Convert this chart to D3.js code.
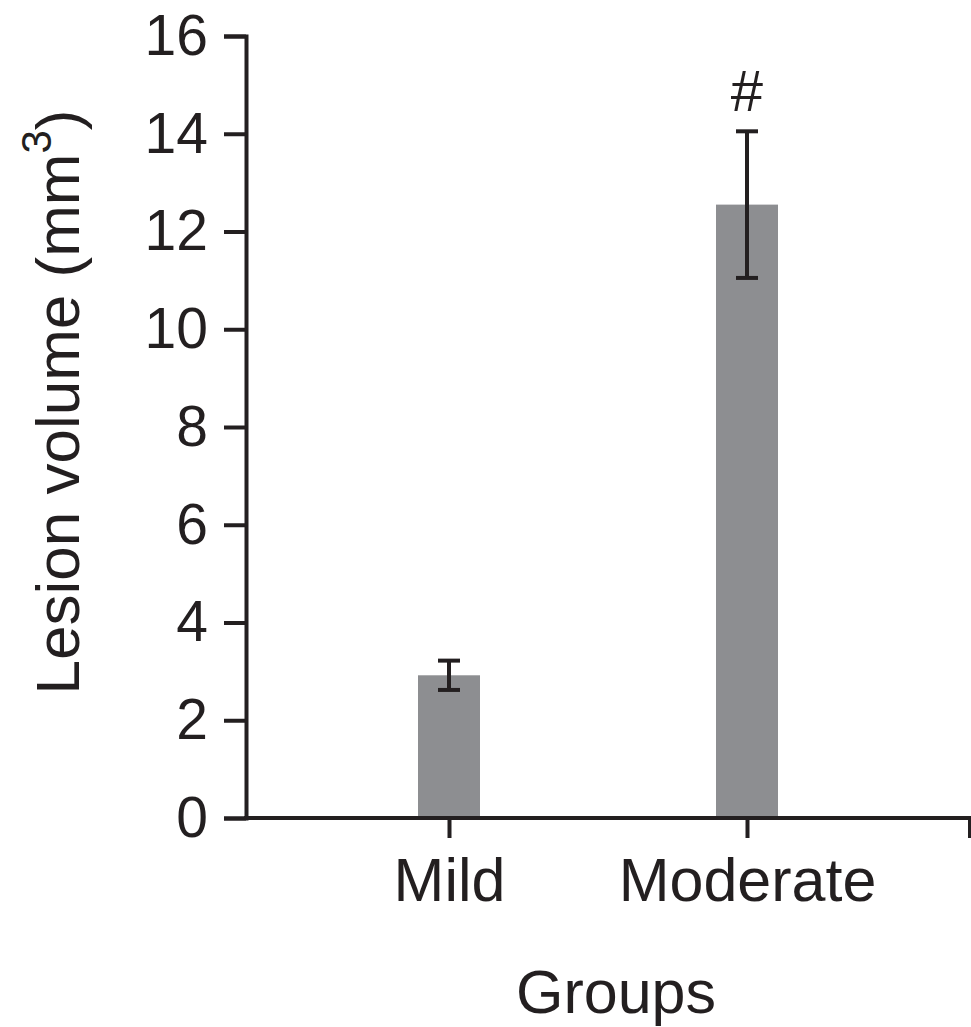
<!DOCTYPE html>
<meta charset="utf-8">
<style>
body { margin: 0; background: #fff; }
svg { font-family: "Liberation Sans", Arial, sans-serif; }
.bar { fill: #8d8e91; }
.axis path, .axis line { stroke: #231f20; stroke-width: 4px; }
.axis text { fill: #231f20; }
.axis--y text { font-size: 57px; }
.axis--x text { font-size: 61px; }
.err { stroke: #231f20; stroke-width: 4px; fill: none; }
</style>
<svg width="971" height="1027"></svg>
<script src="https://d3js.org/d3.v7.min.js"></script>
<script>

var groups = ["Mild", "Moderate"];
var means = [2.92, 12.55];
var sems = [0.3, 1.5];
var marks = ["", "#"];
var yTicks = [0, 2, 4, 6, 8, 10, 12, 14, 16];

var svg = d3.select("svg");

var x = d3.scalePoint().domain(groups).range([449, 747]),
    y = d3.scaleLinear().domain([0, 16]).range([818, 36]);

var barW = 62;

// bars
svg.selectAll(".bar")
  .data(groups)
  .enter().append("rect")
    .attr("class", "bar")
    .attr("x", function(d) { return x(d) - barW / 2; })
    .attr("y", function(d, i) { return y(means[i]); })
    .attr("width", barW)
    .attr("height", function(d, i) { return y(0) - y(means[i]); });

// error bars
var eb = svg.selectAll(".err")
  .data(groups)
  .enter().append("g")
    .attr("class", "err");

eb.append("line")
    .attr("x1", function(d) { return x(d); })
    .attr("x2", function(d) { return x(d); })
    .attr("y1", function(d, i) { return y(means[i] + sems[i]); })
    .attr("y2", function(d, i) { return y(means[i] - sems[i]); });
eb.append("line")
    .attr("x1", function(d) { return x(d) - 11; })
    .attr("x2", function(d) { return x(d) + 11; })
    .attr("y1", function(d, i) { return y(means[i] + sems[i]); })
    .attr("y2", function(d, i) { return y(means[i] + sems[i]); });
eb.append("line")
    .attr("x1", function(d) { return x(d) - 11; })
    .attr("x2", function(d) { return x(d) + 11; })
    .attr("y1", function(d, i) { return y(means[i] - sems[i]); })
    .attr("y2", function(d, i) { return y(means[i] - sems[i]); });

// significance marks
svg.selectAll(".mark")
  .data(groups)
  .enter().append("text")
    .attr("class", "mark")
    .attr("x", function(d) { return x(d); })
    .attr("y", function(d, i) { return y(means[i] + sems[i]) - 20; })
    .attr("text-anchor", "middle")
    .style("font-size", "58px")
    .style("fill", "#231f20")
    .text(function(d, i) { return marks[i]; });

// y axis
var yAxis = svg.append("g")
    .attr("class", "axis axis--y")
    .attr("transform", "translate(246,0)")
    .call(d3.axisLeft(y).tickValues(yTicks).tickSize(22).tickSizeOuter(22).tickPadding(16));
yAxis.selectAll(".tick text").attr("dy", "0.32em");

// x axis
var xAxis = svg.append("g")
    .attr("class", "axis axis--x")
    .attr("transform", "translate(0,818)")
    .call(d3.axisBottom(x).tickSize(20).tickSizeOuter(0).tickPadding(20));
xAxis.select(".domain").remove();
xAxis.append("path")
    .attr("d", "M244,0H970V20")
    .attr("fill", "none")
    .attr("stroke", "#231f20")
    .attr("stroke-width", 4);

// axis titles
svg.append("text")
    .attr("transform", "translate(79,402) rotate(-90)")
    .attr("text-anchor", "middle")
    .style("font-size", "62px")
    .style("fill", "#231f20")
    .html('Lesion volume (mm<tspan dy="-28" font-size="42">3</tspan><tspan dy="28">)</tspan>');

svg.append("text")
    .attr("x", 616)
    .attr("y", 1013)
    .attr("text-anchor", "middle")
    .style("font-size", "61px")
    .style("fill", "#231f20")
    .text("Groups");

</script>
